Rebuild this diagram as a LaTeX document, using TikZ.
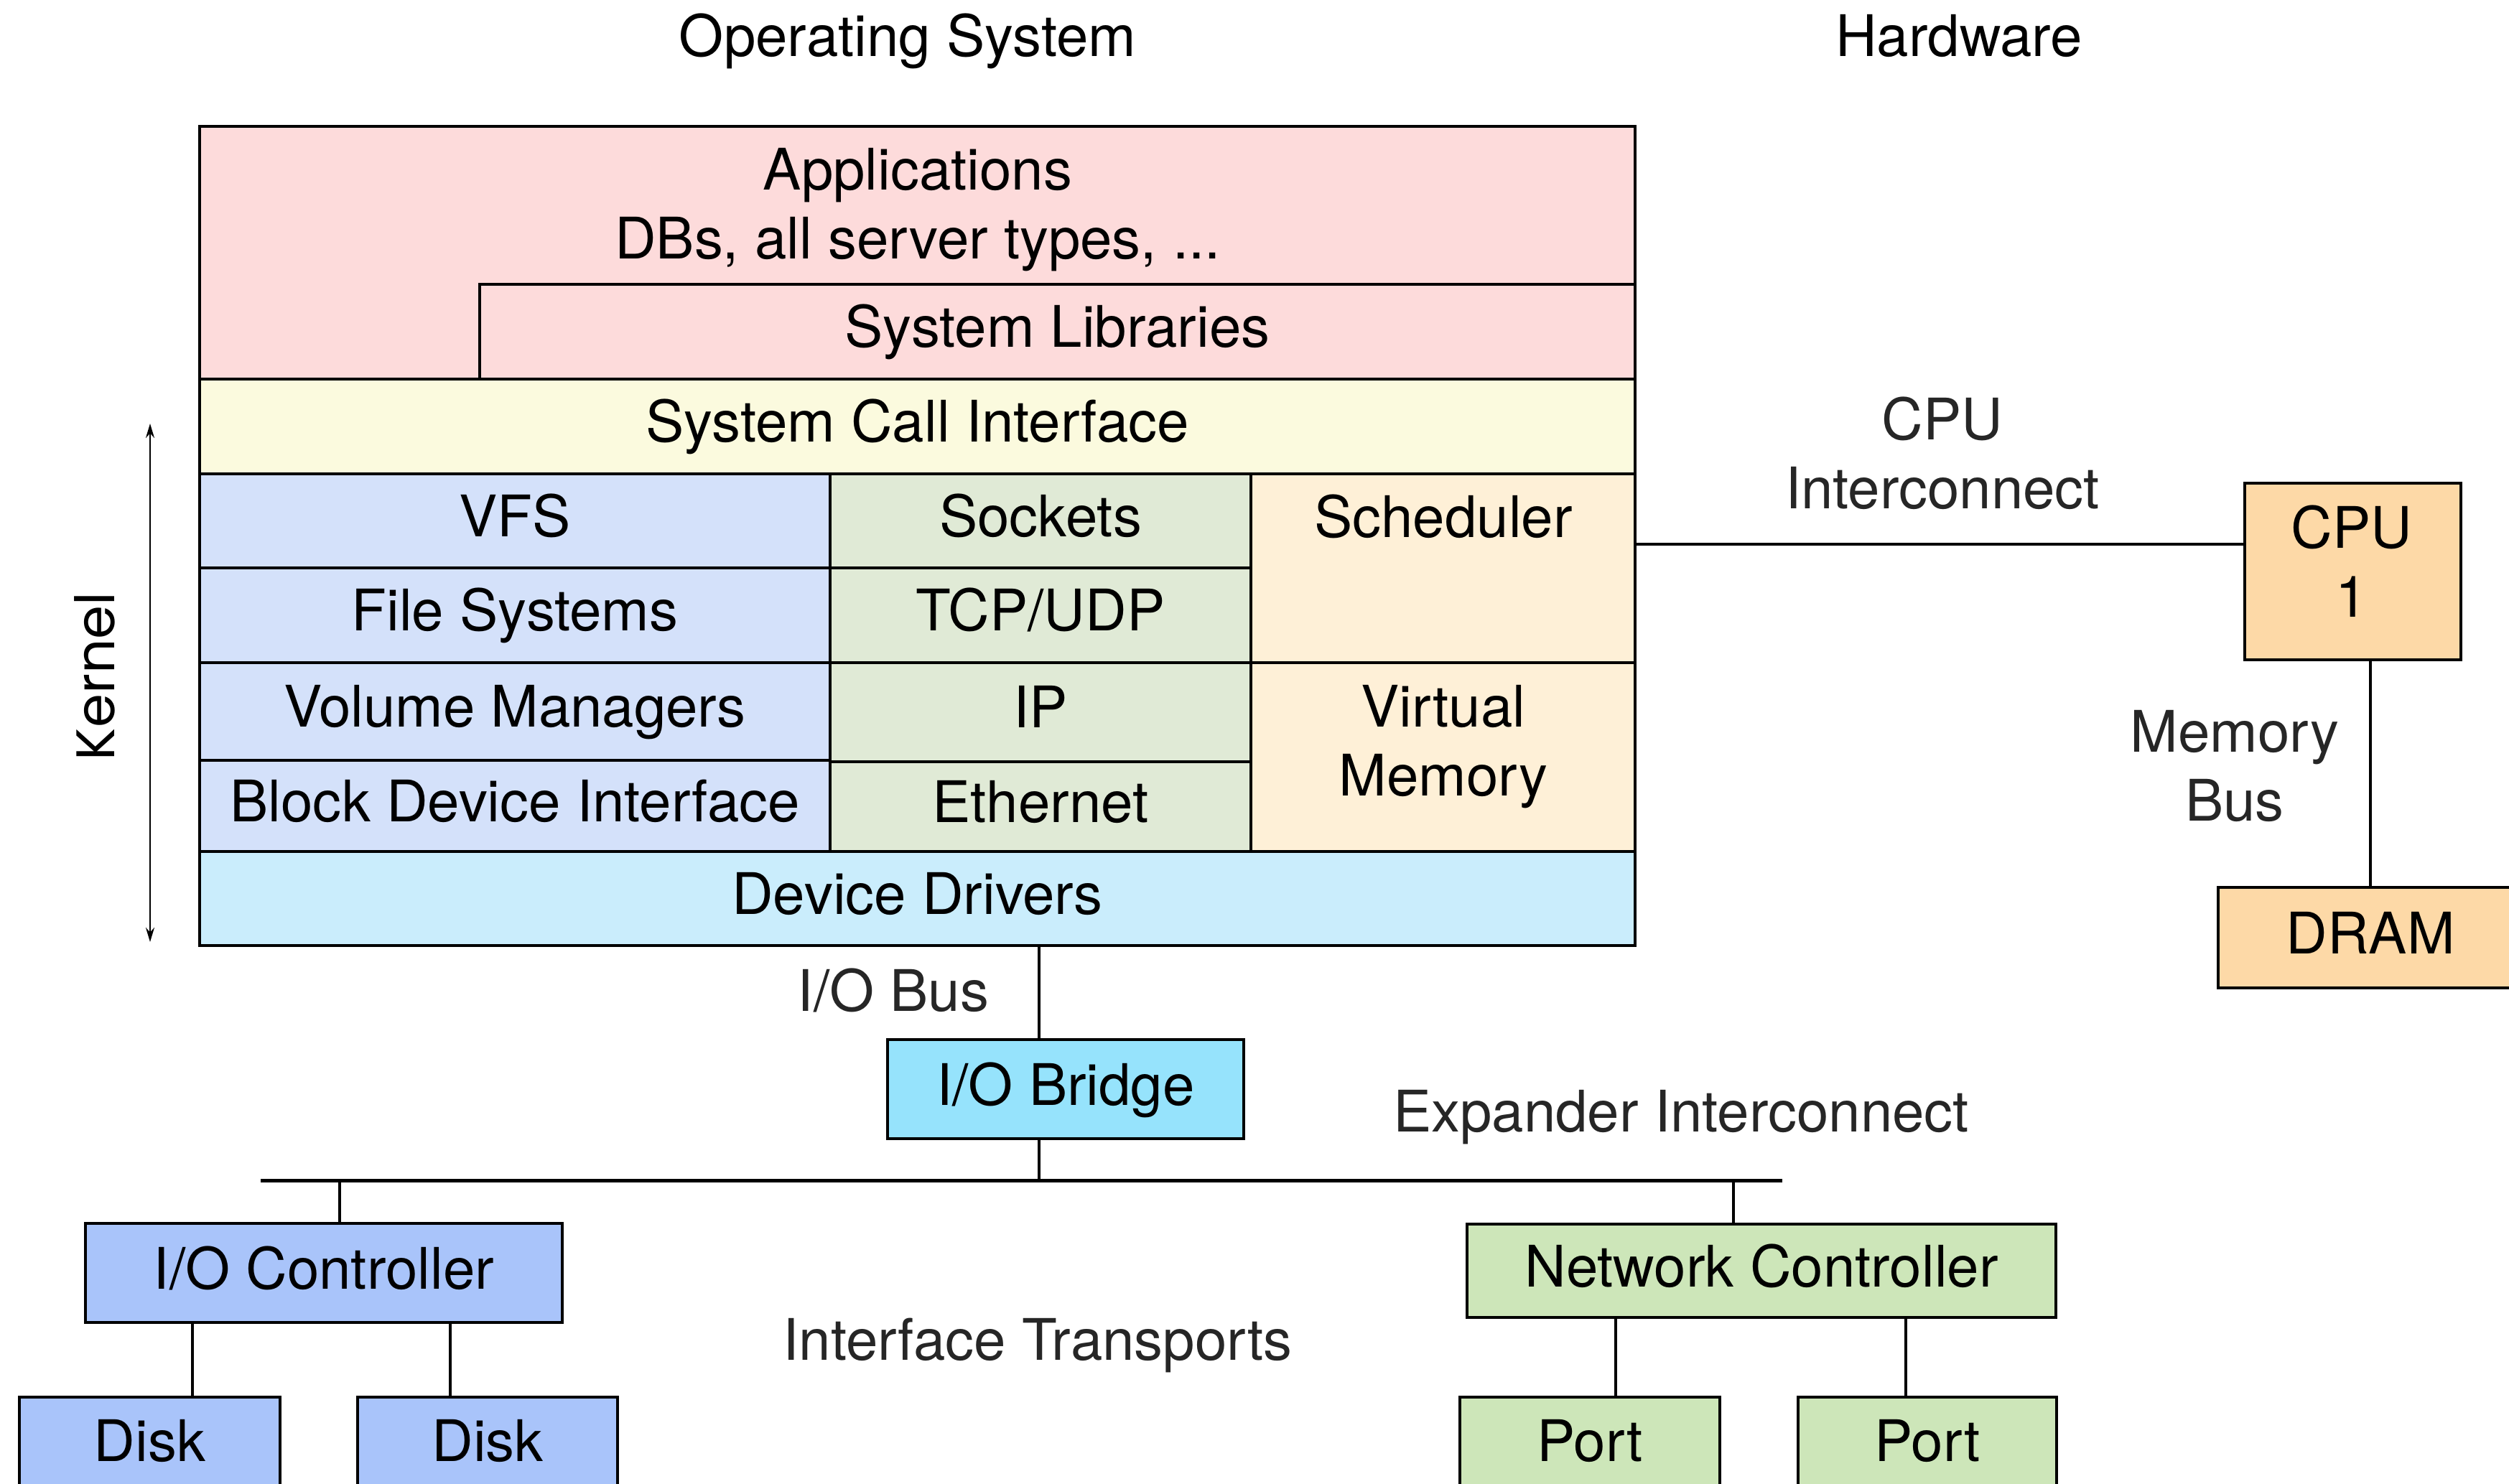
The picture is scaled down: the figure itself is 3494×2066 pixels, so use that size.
\documentclass[tikz,border=0pt]{standalone}
\usepackage{fontspec}
\setmainfont{TeX Gyre Heros}
\newfontfamily\kernfont{Poppins}
\usetikzlibrary{arrows.meta}
\definecolor{appsc}{HTML}{FDDBDB}
\definecolor{scic}{HTML}{FBFADE}
\definecolor{bluec}{HTML}{D4E1FA}
\definecolor{greenc}{HTML}{E0EAD6}
\definecolor{orangec}{HTML}{FEF0D7}
\definecolor{ddc}{HTML}{CAEDFC}
\definecolor{cpuc}{HTML}{FDD9A7}
\definecolor{bridgec}{HTML}{96E3FC}
\definecolor{iocc}{HTML}{A9C4FA}
\definecolor{netc}{HTML}{CDE6B9}
\definecolor{labelgray}{HTML}{262626}
\newcommand\mainfs{\fontsize{22.7pt}{27.5pt}\selectfont}
\tikzset{
  lbl/.style={font=\mainfs, inner sep=0pt, outer sep=0pt, anchor=base},
  glbl/.style={lbl, text=labelgray},
  cellbox/.style={draw, line width=0.035cm, inner sep=0pt, outer sep=0pt,
    font=\mainfs, text height=18.2pt, text depth=5.7pt},
  hwbox/.style={cellbox, line width=0.045cm},
  wire/.style={line width=0.035cm},
  busline/.style={line width=0.05cm},
  kernarrow/.style={line width=0.025cm,
    {Stealth[length=0.2cm,width=0.12cm]}-{Stealth[length=0.2cm,width=0.12cm]}}
}
% [style] name x1 y1 x2 y2 fill text
\newcommand\cellnode[8][]{%
  \node[cellbox,#1,fill=#7,minimum width={(#5-#3)*0.01cm},minimum height={(#6-#4)*0.01cm}]
    (#2) at ({(#3+#5)/2},{(#4+#6)/2}) {#8};}
\begin{document}
\begin{tikzpicture}[x=0.01cm,y=-0.01cm]
\useasboundingbox (0,0) rectangle (3494,2066);
\clip (0,0) rectangle (3494,2066);

% titles
\node[lbl] (ostitle) at (1264,78) {Operating System};
\node[lbl] (hwtitle) at (2728,78) {Hardware};

% OS stack
\cellnode{apps}{278}{176}{2277}{528}{appsc}{}
\cellnode{syslib}{668}{396}{2277}{528}{appsc}{System Libraries}
\cellnode{sci}{278}{528}{2277}{660}{scic}{System Call Interface}
\cellnode{vfs}{278}{660}{1156}{791}{bluec}{VFS}
\cellnode{fs}{278}{791}{1156}{923}{bluec}{File Systems}
\cellnode{volm}{278}{923}{1156}{1059}{bluec}{Volume Managers}
\cellnode{bdi}{278}{1059}{1156}{1186}{bluec}{Block Device Interface}
\cellnode{sock}{1156}{660}{1742}{791}{greenc}{Sockets}
\cellnode{tcp}{1156}{791}{1742}{923}{greenc}{TCP/UDP}
\cellnode{ip}{1156}{923}{1742}{1061}{greenc}{IP}
\cellnode{eth}{1156}{1061}{1742}{1186}{greenc}{Ethernet}
\cellnode{sched}{1742}{660}{2277}{923}{orangec}{}
\cellnode{virt}{1742}{923}{2277}{1186}{orangec}{}
\cellnode{dd}{278}{1186}{2277}{1317}{ddc}{Device Drivers}
\draw[line width=0.045cm] (apps.north west) rectangle (dd.south east);

\node[lbl] (appstxt) at (1278,264) {\begin{tabular}[t]{@{}c@{}}Applications\\DBs, all server types, ...\end{tabular}};
\node[lbl] (schedtxt) at (2010,748) {Scheduler};
\node[lbl] (virttxt) at (2010,1012) {\begin{tabular}[t]{@{}c@{}}Virtual\\Memory\end{tabular}};

% kernel
\coordinate (ktop) at (209,590);
\coordinate (kbot) at (209,1312);
\draw[kernarrow] (ktop) -- (kbot);
\node[rotate=90, inner sep=0pt, font=\kernfont\fontsize{21.5pt}{25pt}\selectfont] (kernel) at (132,942) {Kernel};

% hardware
\cellnode[hwbox]{cpu}{3126}{673}{3427}{919}{cpuc}{}
\node[lbl] (cputxt) at (3275,763) {\begin{tabular}[t]{@{}c@{}}CPU\\1\end{tabular}};
\cellnode[hwbox]{dram}{3089}{1236}{3513}{1376}{cpuc}{DRAM}
\cellnode[hwbox]{bridge}{1236}{1448}{1732}{1586}{bridgec}{I/O Bridge}
\cellnode[hwbox]{ioc}{119}{1704}{783}{1842}{iocc}{I/O Controller}
\cellnode[hwbox]{nc}{2043}{1705}{2863}{1835}{netc}{Network Controller}
\cellnode[hwbox]{disk1}{27}{1946}{390}{2080}{iocc}{Disk}
\cellnode[hwbox]{disk2}{498}{1946}{860}{2080}{iocc}{Disk}
\cellnode[hwbox]{port1}{2033}{1946}{2395}{2080}{netc}{Port}
\cellnode[hwbox]{port2}{2504}{1946}{2864}{2080}{netc}{Port}

% connector labels
\node[glbl] (cpuic) at (2705,612) {\begin{tabular}[t]{@{}c@{}}CPU\\Interconnect\end{tabular}};
\node[glbl] (membus) at (3112,1047) {\begin{tabular}[t]{@{}c@{}}Memory\\Bus\end{tabular}};
\node[glbl] (iobus) at (1244,1408) {I/O Bus};
\node[glbl] (expic) at (2341,1576) {Expander Interconnect};
\node[glbl] (ifts) at (1445,1894) {Interface Transports};

% connectors
\coordinate (ciy) at (0,758);
\draw[wire] (sched.east |- ciy) -- (cpu.west |- ciy);
\draw[wire] (dram.north |- cpu.south) -- (dram.north);
\coordinate (iox) at (1447,0);
\draw[wire] (dd.south -| iox) -- (bridge.north -| iox);
\coordinate (busL) at (363,1644);
\coordinate (busR) at (2482,1644);
\draw[busline] (busL) -- (busR);
\draw[wire] (bridge.south -| iox) -- (busL -| iox);
\coordinate (iocx) at (473,0);
\draw[wire] (busL -| iocx) -- (ioc.north -| iocx);
\coordinate (ncx) at (2414,0);
\draw[wire] (busL -| ncx) -- (nc.north -| ncx);
\coordinate (d1x) at (268,0);
\coordinate (d2x) at (627,0);
\draw[wire] (ioc.south -| d1x) -- (disk1.north -| d1x);
\draw[wire] (ioc.south -| d2x) -- (disk2.north -| d2x);
\coordinate (p1x) at (2250,0);
\coordinate (p2x) at (2654,0);
\draw[wire] (nc.south -| p1x) -- (port1.north -| p1x);
\draw[wire] (nc.south -| p2x) -- (port2.north -| p2x);
\end{tikzpicture}
\end{document}
